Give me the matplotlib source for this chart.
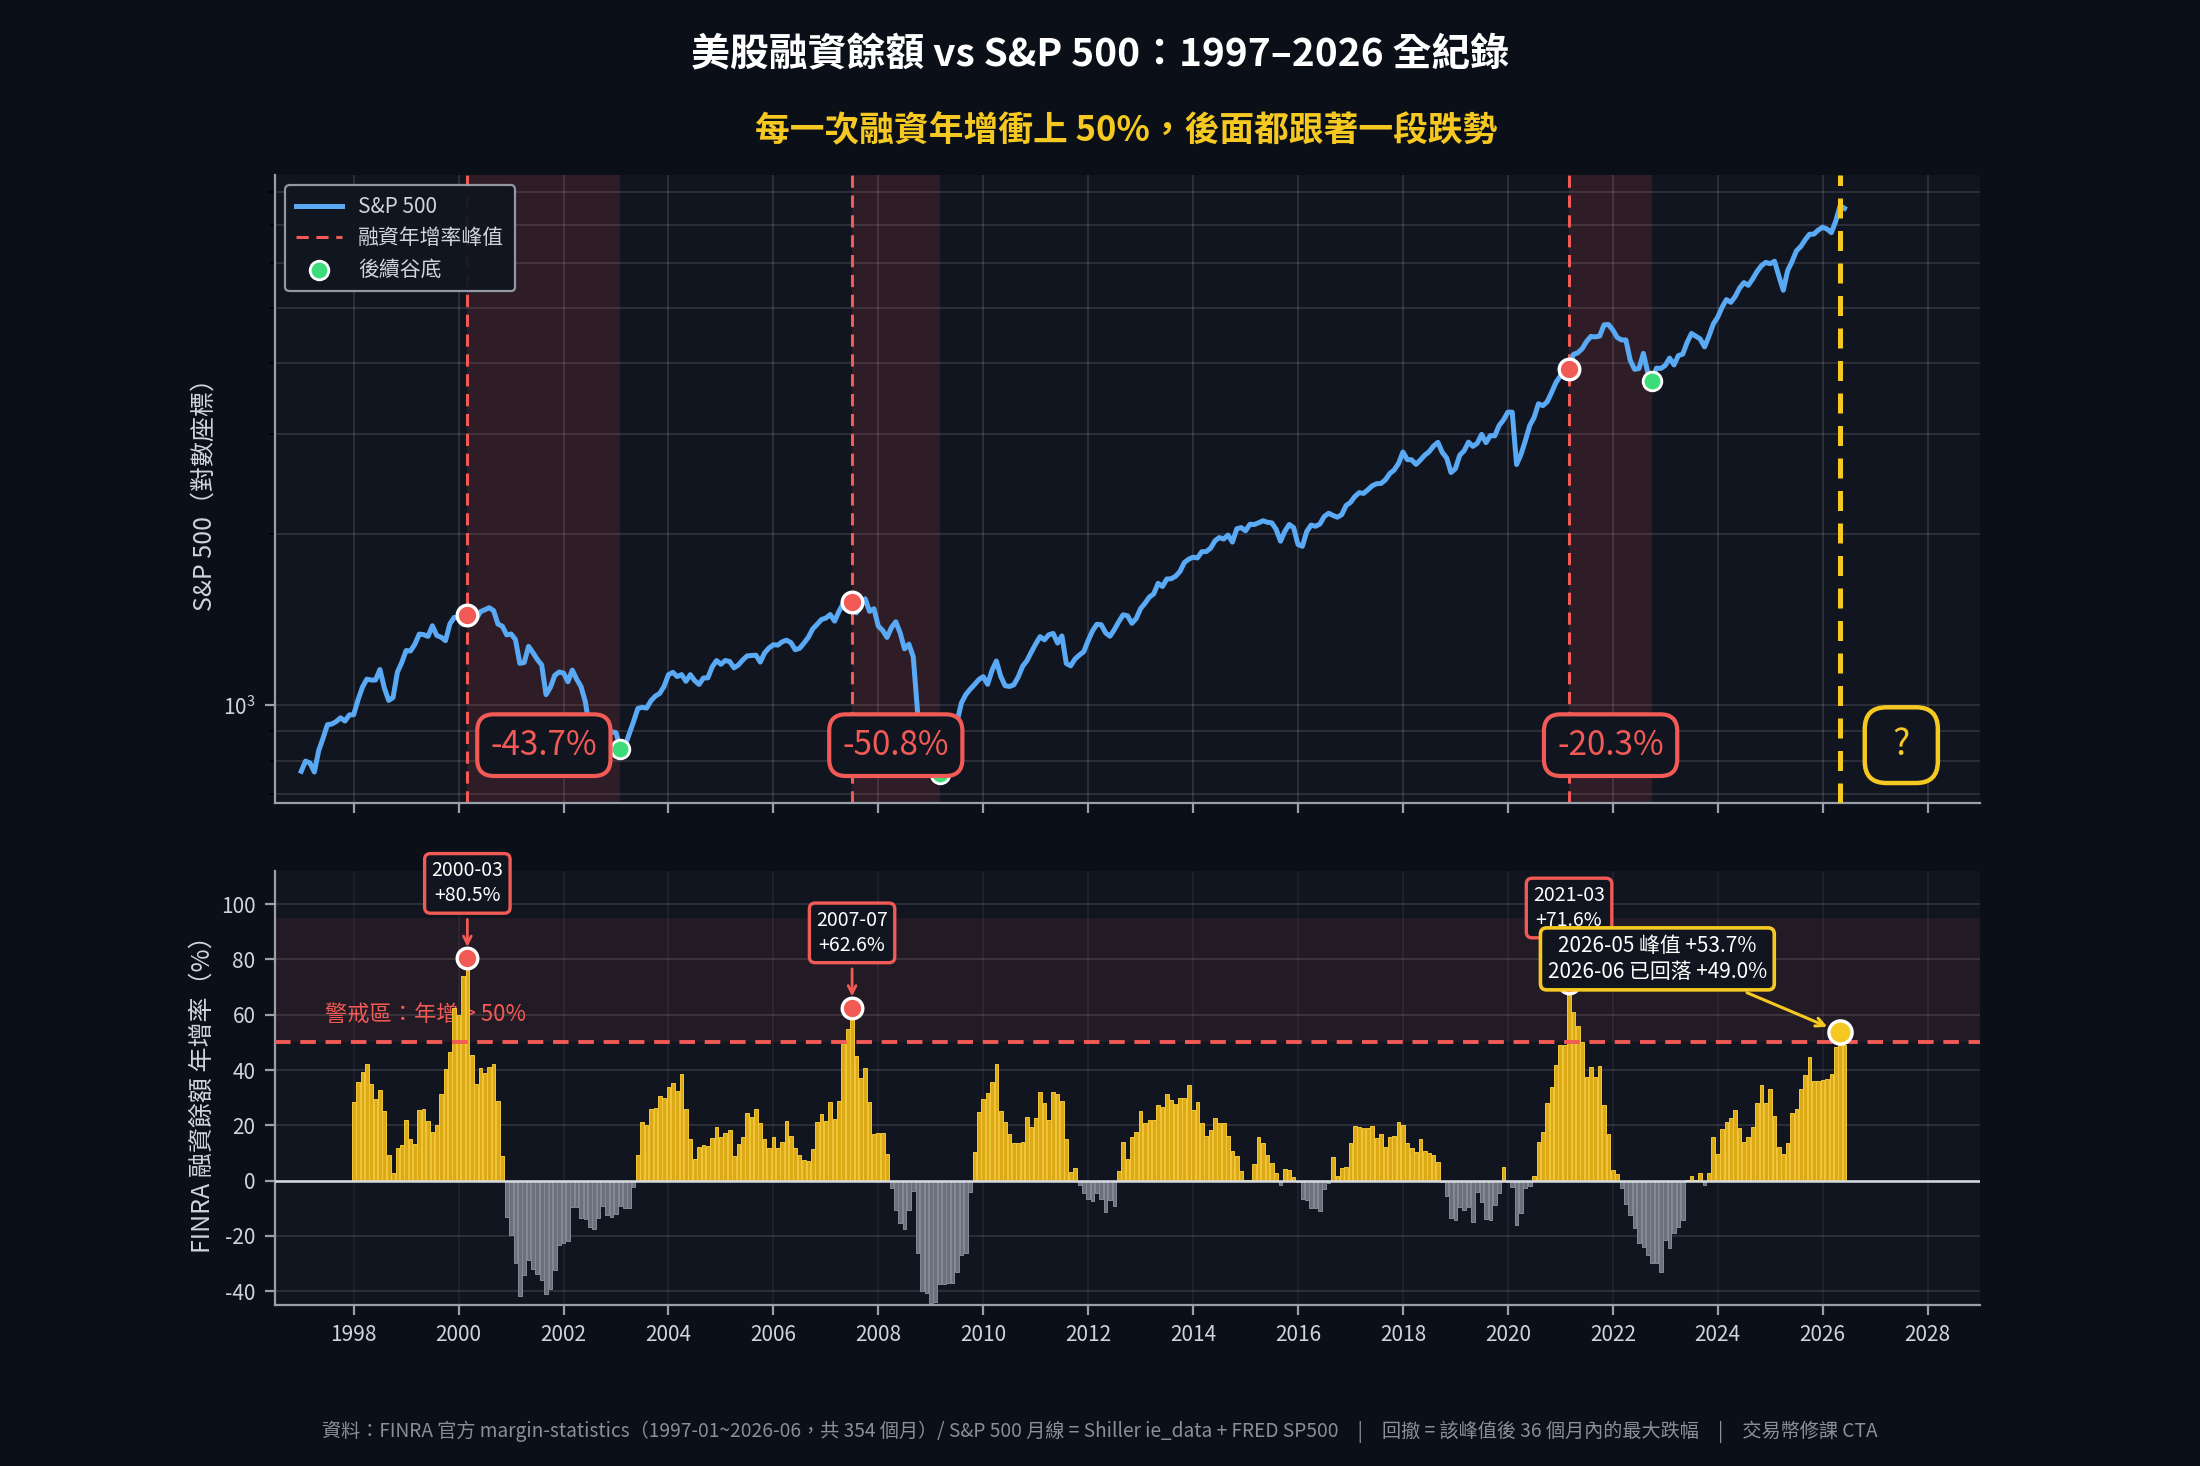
import numpy as np
import matplotlib
matplotlib.use('Agg')
import matplotlib.pyplot as plt
from matplotlib.transforms import blended_transform_factory

# S&P 500 月均值 1997-01 ~ 2026-06
sp500 = [
    766.2, 798.4, 792.2, 763.9, 833.1, 876.3, 925.3, 927.7, 937.0, 951.2, 938.9, 962.4,  # 1997
    963.4, 1023.7, 1076.8, 1112.2, 1108.4, 1108.4, 1156.6, 1074.6, 1020.6, 1032.5, 1144.4, 1190.1,  # 1998
    1248.8, 1246.6, 1281.7, 1334.8, 1332.1, 1322.6, 1381.0, 1327.5, 1318.2, 1300.0, 1391.0, 1428.7,  # 1999
    1425.6, 1388.9, 1442.2, 1461.4, 1418.5, 1462.0, 1473.0, 1485.5, 1468.1, 1390.1, 1378.0, 1330.9,  # 2000
    1335.6, 1305.8, 1185.9, 1189.8, 1270.4, 1238.7, 1204.5, 1178.5, 1044.6, 1076.6, 1129.7, 1144.9,  # 2001
    1140.2, 1100.7, 1153.8, 1112.0, 1079.3, 1014.0, 903.6, 912.6, 867.8, 854.6, 909.9, 899.2,  # 2002
    895.8, 837.6, 846.6, 890.0, 936.0, 988.0, 992.5, 989.5, 1019.4, 1038.7, 1049.9, 1080.6,  # 2003
    1132.5, 1143.4, 1124.0, 1133.1, 1102.8, 1132.8, 1105.8, 1088.9, 1117.7, 1118.1, 1168.9, 1199.2,  # 2004
    1181.4, 1199.6, 1194.9, 1164.4, 1178.3, 1202.3, 1222.2, 1224.3, 1225.9, 1192.0, 1237.4, 1262.1,  # 2005
    1278.7, 1276.7, 1293.7, 1302.2, 1290.0, 1253.1, 1260.2, 1287.2, 1317.7, 1363.4, 1388.6, 1416.4,  # 2006
    1424.2, 1444.8, 1406.8, 1463.6, 1511.1, 1514.5, 1518.0, 1454.6, 1497.1, 1539.7, 1463.4, 1479.2,  # 2007
    1378.8, 1354.9, 1316.9, 1370.5, 1403.2, 1341.3, 1257.3, 1281.5, 1217.0, 968.8, 883.0, 877.6,  # 2008
    865.6, 805.2, 757.1, 848.2, 902.4, 926.1, 935.8, 1009.7, 1044.6, 1067.7, 1088.1, 1110.4,  # 2009
    1123.6, 1089.2, 1152.0, 1197.3, 1125.1, 1083.4, 1079.8, 1087.3, 1122.1, 1171.6, 1198.9, 1241.5,  # 2010
    1282.6, 1321.1, 1304.5, 1331.5, 1338.3, 1287.3, 1325.2, 1185.3, 1173.9, 1207.2, 1226.4, 1243.3,  # 2011
    1300.6, 1352.5, 1389.2, 1386.4, 1341.3, 1323.5, 1359.8, 1403.4, 1443.4, 1437.8, 1394.5, 1422.3,  # 2012
    1480.4, 1512.3, 1550.8, 1570.7, 1639.8, 1618.8, 1668.7, 1670.1, 1687.2, 1720.0, 1783.5, 1807.8,  # 2013
    1822.4, 1817.0, 1863.5, 1864.3, 1889.8, 1947.1, 1973.1, 1961.5, 1993.2, 1937.3, 2044.6, 2054.3,  # 2014
    2028.2, 2082.2, 2080.0, 2094.9, 2111.9, 2099.3, 2094.1, 2039.9, 1944.4, 2024.8, 2080.6, 2054.1,  # 2015
    1918.6, 1904.4, 2022.0, 2075.5, 2065.6, 2083.9, 2148.9, 2177.5, 2157.7, 2143.0, 2165.0, 2246.6,  # 2016
    2275.1, 2329.9, 2366.8, 2359.3, 2395.3, 2434.0, 2454.1, 2456.2, 2492.8, 2557.0, 2593.6, 2664.3,  # 2017
    2789.8, 2705.2, 2702.8, 2653.6, 2701.5, 2754.4, 2793.6, 2857.8, 2901.5, 2785.5, 2723.2, 2567.3,  # 2018
    2607.4, 2754.9, 2804.0, 2903.8, 2854.7, 2890.2, 2996.1, 2897.5, 2982.2, 2977.7, 3104.9, 3176.7,  # 2019
    3278.2, 3277.3, 2652.4, 2762.0, 2919.6, 3104.7, 3207.6, 3391.7, 3365.5, 3418.7, 3549.0, 3695.3,  # 2020
    3793.7, 3883.4, 3910.5, 4141.2, 4167.9, 4238.5, 4363.7, 4454.2, 4445.5, 4460.7, 4667.4, 4674.8,  # 2021
    4573.8, 4436.0, 4391.3, 4391.3, 4040.4, 3898.9, 3911.7, 4158.6, 3850.5, 3726.1, 3917.5, 3912.4,  # 2022
    3960.7, 4079.7, 3968.6, 4121.5, 4146.2, 4346.0, 4508.1, 4457.4, 4409.1, 4269.4, 4460.1, 4685.1,  # 2023
    4815.6, 5012.0, 5170.6, 5112.5, 5235.2, 5415.1, 5538.0, 5478.0, 5621.3, 5792.3, 5929.9, 6010.9,  # 2024
    5979.5, 6038.7, 5684.0, 5369.5, 5810.9, 6029.0, 6296.5, 6408.9, 6584.0, 6735.0, 6740.0, 6850.0,  # 2025
    6930.0, 6880.0, 6780.0, 7100.0, 7560.0, 7480.0,  # 2026
]

# FINRA 融資餘額年增率 (%) 1998-01 ~ 2026-06
margin_yoy = [
    28.6, 35.6, 39.4, 42.3, 35.0, 29.5, 32.8, 25.0, 9.4, 2.7, 11.9, 12.9,  # 1998
    21.8, 15.1, 13.4, 25.4, 26.0, 21.6, 17.6, 20.0, 31.2, 40.3, 46.5, 62.6,  # 1999
    60.0, 74.1, 80.5, 45.6, 35.0, 40.6, 38.8, 41.0, 42.1, 28.9, 8.8, -13.0,  # 2000
    -19.7, -29.9, -41.6, -34.2, -28.7, -32.1, -33.8, -35.9, -41.1, -39.2, -32.5, -23.3,  # 2001
    -22.7, -21.7, -9.4, -9.6, -13.6, -14.0, -16.6, -17.5, -13.6, -9.2, -12.4, -13.0,  # 2002
    -12.1, -9.2, -9.8, -9.8, -2.4, 9.2, 21.1, 20.1, 25.8, 26.4, 30.7, 30.0,  # 2003
    34.0, 35.2, 32.4, 38.5, 25.8, 15.1, 7.7, 12.3, 12.9, 12.7, 15.4, 19.5,  # 2004
    15.9, 17.1, 18.3, 9.0, 13.1, 15.6, 24.4, 22.9, 26.0, 20.7, 14.9, 11.9,  # 2005
    15.9, 11.7, 14.0, 21.7, 16.2, 11.9, 9.3, 7.5, 7.0, 11.6, 21.1, 24.0,  # 2006
    21.5, 28.5, 22.2, 28.9, 49.3, 55.0, 62.6, 45.1, 37.0, 40.6, 28.6, 16.9,  # 2007
    17.4, 17.4, 9.6, -2.8, -10.6, -15.2, -17.6, -10.6, -3.7, -26.0, -39.8, -40.5,  # 2008
    -44.1, -44.0, -37.4, -37.4, -36.9, -36.9, -32.9, -26.9, -26.0, -4.0, 10.4, 24.7,  # 2009
    29.5, 31.8, 35.8, 42.1, 25.0, 21.1, 16.9, 13.5, 13.5, 14.1, 22.9, 19.5,  # 2010
    22.5, 31.9, 28.0, 21.9, 32.2, 31.3, 28.9, 14.9, 3.0, 4.6, -1.6, -4.6,  # 2011
    -6.6, -7.2, -4.6, -6.8, -11.3, -7.0, -9.2, 3.6, 13.9, 7.7, 15.6, 17.6,  # 2012
    25.0, 21.0, 21.9, 21.9, 27.2, 26.8, 31.3, 29.2, 27.6, 29.7, 29.7, 34.6,  # 2013
    25.6, 28.6, 20.7, 16.2, 18.3, 22.8, 21.0, 20.7, 16.2, 10.6, 8.9, 3.5,  # 2014
    0.2, 0.4, 6.0, 15.6, 13.7, 9.3, 6.3, 2.9, -1.5, 4.3, 3.9, 1.4,  # 2015
    -0.5, -6.6, -7.0, -9.9, -9.9, -10.9, -3.0, -1.0, 8.4, 1.6, 4.7, 5.1,  # 2016
    13.5, 19.8, 19.5, 19.2, 18.9, 19.8, 15.4, 16.9, 12.1, 15.9, 16.2, 21.2,  # 2017
    20.1, 13.5, 11.7, 10.5, 14.9, 10.7, 10.1, 9.3, 6.6, -0.5, -5.7, -13.5,  # 2018
    -14.4, -9.6, -10.8, -9.4, -14.8, -4.2, -7.6, -14.0, -14.2, -8.8, -4.6, 4.8,  # 2019
    -0.5, -2.4, -16.2, -11.8, -2.8, -1.8, 1.7, 14.1, 17.7, 28.2, 34.0, 41.8,  # 2020
    49.1, 49.1, 71.6, 61.1, 55.9, 50.3, 37.6, 41.0, 37.6, 41.6, 27.4, 16.9,  # 2021
    3.9, 2.4, -2.8, -8.4, -12.4, -17.2, -22.4, -23.9, -26.9, -29.9, -29.7, -32.9,  # 2022
    -21.5, -24.5, -19.0, -16.6, -14.2, 0.3, 1.7, 0.2, 2.7, -1.5, 2.7, 15.6,  # 2023
    9.6, 18.6, 21.1, 22.5, 25.6, 18.9, 14.1, 15.7, 19.5, 28.2, 34.6, 28.2,  # 2024
    33.2, 23.5, 12.1, 9.6, 13.7, 24.4, 25.8, 33.0, 38.2, 44.8, 36.2, 35.9,  # 2025
    36.4, 36.6, 38.6, 48.5, 53.7, 49.0,  # 2026
]

# 三次融資年增峰值 / 之後谷底 (年, 月)
peak_months = [(2000, 3), (2007, 7), (2021, 3)]
trough_months = [(2003, 2), (2009, 3), (2022, 10)]
drawdown_labels = ['-43.7%', '-50.8%', '-20.3%']
peak_box_labels = ['2000-03\n+80.5%', '2007-07\n+62.6%', '2021-03\n+71.6%']
now_month = (2026, 5)
now_label = '2026-05 峰值 +53.7%\n2026-06 已回落 +49.0%'

plt.rcParams['font.family'] = ['Noto Sans CJK TC', 'DejaVu Sans']
plt.rcParams['axes.unicode_minus'] = False

BG = '#0b0f18'
AX_BG = '#111520'
BLUE = '#5aa9f5'
RED = '#f25a55'
GREEN = '#3ddc7a'
GOLD = '#dcaa16'
GOLD_EDGE = '#f4c83a'
YELLOW = '#f5c921'
GREY_BAR = '#6b717c'
TXT = '#d0d4dc'


def ym(y, m):
    return y + (m - 1) / 12


sp_x = 1997 + np.arange(len(sp500)) / 12
sp_y = np.array(sp500)
mg_x = 1998 + np.arange(len(margin_yoy)) / 12
mg_y = np.array(margin_yoy)

fig = plt.figure(figsize=(11, 7.33), dpi=200, facecolor=BG)
ax1 = fig.add_axes([0.125, 0.4523, 0.775, 0.4283])
ax2 = fig.add_axes([0.125, 0.1098, 0.775, 0.2961], sharex=ax1)

for ax in (ax1, ax2):
    ax.set_facecolor(AX_BG)
    for s in ('top', 'right'):
        ax.spines[s].set_visible(False)
    for s in ('left', 'bottom'):
        ax.spines[s].set_color('#9aa0aa')
        ax.spines[s].set_linewidth(0.8)
    ax.tick_params(colors='#9aa0aa', labelcolor=TXT, labelsize=7.5, width=0.8)

# ---- 上圖：S&P 500 ----
ax1.set_yscale('log')
ax1.grid(True, which='both', color='#ffffff', alpha=0.13, lw=0.6)
ax1.set_axisbelow(True)
ax1.plot(sp_x, sp_y, color=BLUE, lw=1.8, label='S&P 500', zorder=3)

trans1 = blended_transform_factory(ax1.transData, ax1.transAxes)
for k, ((py, pm), (ty, tm), lbl) in enumerate(zip(peak_months, trough_months, drawdown_labels)):
    px, tx = ym(py, pm), ym(ty, tm)
    ax1.axvspan(px, tx, color=RED, alpha=0.13, lw=0, zorder=1)
    ax1.axvline(px, color=RED, lw=1.1, ls=(0, (4, 2.5)), zorder=2,
                label='融資年增率峰值' if k == 0 else None)
    pv = sp_y[int(round((px - 1997) * 12))]
    tv = sp_y[int(round((tx - 1997) * 12))]
    ax1.scatter([px], [pv], s=55, color=RED, edgecolor='white', lw=1.2, zorder=5)
    ax1.scatter([tx], [tv], s=45, color=GREEN, edgecolor='white', lw=1.0, zorder=5,
                label='後續谷底' if k == 0 else None)
    ax1.text((px + tx) / 2, 0.092, lbl, transform=trans1, ha='center', va='center',
             fontsize=12, color=RED, zorder=7,
             bbox=dict(boxstyle='round,pad=0.4,rounding_size=0.5', fc=AX_BG, ec=RED, lw=1.5))

nx = ym(*now_month)
ax1.axvline(nx, color=YELLOW, lw=1.8, ls=(0, (4, 2.5)), zorder=4)
ax1.text(2027.5, 0.092, ' ? ', transform=trans1, ha='center', va='center', fontsize=13,
         color=YELLOW, zorder=7,
         bbox=dict(boxstyle='round,pad=0.55,rounding_size=0.6', fc=AX_BG, ec=YELLOW, lw=1.6))

ax1.set_ylim(674, 8560)
ax1.set_xlim(1996.5, 2029)
ax1.set_ylabel('S&P 500（對數座標）', color=TXT, fontsize=9, labelpad=2)
ax1.tick_params(axis='x', labelbottom=False)
leg = ax1.legend(loc='upper left', fontsize=7.5, facecolor=AX_BG, edgecolor='#9aa0aa',
                 labelcolor=TXT, framealpha=0.95, borderpad=0.5, handlelength=2.2,
                 labelspacing=0.45)
leg.get_frame().set_linewidth(0.8)

# ---- 下圖：融資年增率 ----
ax2.grid(True, axis='y', color='#ffffff', alpha=0.13, lw=0.6)
ax2.grid(True, axis='x', color='#ffffff', alpha=0.06, lw=0.6)
ax2.set_axisbelow(True)
ax2.axhspan(50, 95, color=RED, alpha=0.08, lw=0, zorder=0)
pos = mg_y >= 0
ax2.bar(mg_x[pos], mg_y[pos], width=0.07, color=GOLD, edgecolor=GOLD_EDGE, lw=0.35, zorder=3)
ax2.bar(mg_x[~pos], mg_y[~pos], width=0.07, color=GREY_BAR, edgecolor='#868c96', lw=0.35, zorder=3)
ax2.axhline(0, color='#d8dce2', lw=0.9, zorder=4)
ax2.axhline(50, color=RED, lw=1.4, ls=(0, (4, 2.5)), zorder=4)
ax2.text(1997.45, 60, '警戒區：年增 > 50%', color=RED, fontsize=8, va='center', ha='left', zorder=2)

for (py, pm), lbl in zip(peak_months, peak_box_labels):
    px = ym(py, pm)
    v = mg_y[int(round((px - 1998) * 12))]
    ax2.scatter([px], [v], s=55, color=RED, edgecolor='white', lw=1.2, zorder=6)
    ax2.annotate(lbl, xy=(px, v), xytext=(px, v + 27), ha='center', va='center',
                 fontsize=7, color='white', linespacing=1.25, zorder=7,
                 bbox=dict(boxstyle='round,pad=0.35,rounding_size=0.3', fc=AX_BG, ec=RED, lw=1.2),
                 arrowprops=dict(arrowstyle='->', color=RED, lw=1.0, shrinkB=4))

nv = mg_y[int(round((nx - 1998) * 12))]
ax2.scatter([nx], [nv], s=70, color=YELLOW, edgecolor='white', lw=1.2, zorder=6)
ax2.annotate(now_label, xy=(nx, nv), xytext=(2022.85, 80.2), ha='center', va='center',
             fontsize=7.5, color='white', fontweight='medium', linespacing=1.2, zorder=8,
             bbox=dict(boxstyle='round,pad=0.35,rounding_size=0.3', fc=AX_BG, ec=YELLOW, lw=1.3),
             arrowprops=dict(arrowstyle='->', color=YELLOW, lw=1.1, shrinkB=5, relpos=(0.8, 0)))

ax2.set_ylim(-45, 112)
ax2.set_yticks(np.arange(-40, 101, 20))
ax2.set_xticks(np.arange(1998, 2029, 2))
ax2.set_ylabel('FINRA 融資餘額 年增率（%）', color=TXT, fontsize=9, labelpad=2)

# ---- 標題 / 註腳 ----
fig.text(0.5, 0.9625, '美股融資餘額 vs S&P 500：1997–2026 全紀錄', ha='center', va='center',
         fontsize=14, fontweight='bold', color='white')
fig.text(0.512, 0.911, '每一次融資年增衝上 50%，後面都跟著一段跌勢', ha='center', va='center',
         fontsize=12.5, fontweight='bold', color=YELLOW)
fig.text(0.5, 0.0231,
         '資料：FINRA 官方 margin-statistics（1997-01~2026-06，共 354 個月）/ S&P 500 月線 = Shiller ie_data + FRED SP500'
         '　|　回撤 = 該峰值後 36 個月內的最大跌幅　|　交易幣修課 CTA',
         ha='center', va='center', fontsize=6.9, color='#8a909b')

fig.savefig('out.png', dpi=200, facecolor=BG)
